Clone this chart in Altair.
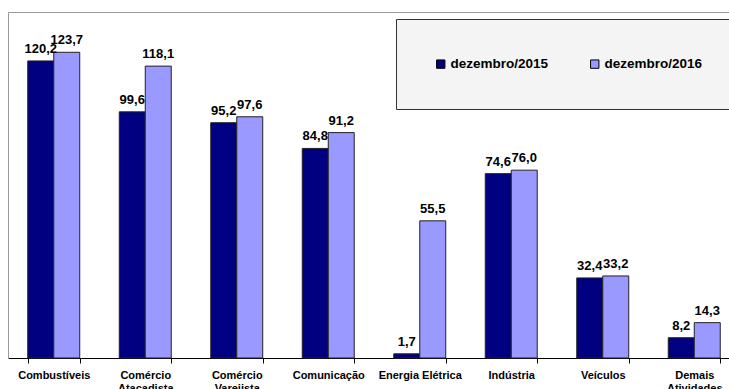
import altair as alt
import pandas as pd

categories = ["Combustíveis", "Comércio Atacadista", "Comércio Varejista", "Comunicação",
              "Energia Elétrica", "Indústria", "Veículos", "Demais Atividades"]
series = ["dezembro/2015", "dezembro/2016"]
values_2015 = [120.2, 99.6, 95.2, 84.8, 1.7, 74.6, 32.4, 8.2]
values_2016 = [123.7, 118.1, 97.6, 91.2, 55.5, 76.0, 33.2, 14.3]
colors = ["#000080", "#9999FF"]

rows = []
for c, a, b in zip(categories, values_2015, values_2016):
    rows.append({"cat": c, "serie": series[0], "v": a})
    rows.append({"cat": c, "serie": series[1], "v": b})
df = pd.DataFrame(rows)

FONT = "Liberation Sans"

x = alt.X("cat:N", sort=categories, title=None,
          scale=alt.Scale(range=[0, 732], paddingInner=0.432, paddingOuter=0.216),
          axis=alt.Axis(labelAngle=0, tickBand="extent", tickSize=5, tickColor="#000",
                        domainColor="#000", labelFont=FONT, labelFontSize=11,
                        labelFontWeight="bold", labelColor="#000", labelPadding=6,
                        labelBaseline="top", labelLineHeight=13,
                        labelExpr="datum.label == 'Energia Elétrica' ? datum.label : split(datum.label, ' ')"))
y = alt.Y("v:Q", title=None, scale=alt.Scale(domain=[0, 140], nice=False),
          axis=alt.Axis(values=[140], labels=False, ticks=False, grid=True,
                        gridColor="#999999", domainColor="#999999"))
xo = alt.XOffset("serie:N", sort=series, scale=alt.Scale(paddingInner=0, paddingOuter=0))

bars = alt.Chart(df).mark_bar(stroke="#222222", strokeWidth=1).encode(
    x=x, y=y, xOffset=xo,
    color=alt.Color("serie:N", sort=series, scale=alt.Scale(domain=series, range=colors),
                    legend=alt.Legend(title=None, orient="none", legendX=388, legendY=7,
                                      direction="horizontal", padding=38,
                                      fillColor="#f4f4f4", strokeColor="#333333",
                                      symbolType="square", symbolSize=70,
                                      symbolStrokeColor="#000", symbolStrokeWidth=1,
                                      labelFont=FONT, labelFontSize=13.5,
                                      labelFontWeight="bold", labelColor="#000",
                                      labelOffset=3, columnPadding=39)),
)

labels = alt.Chart(df).transform_calculate(
    lbl="replace(format(datum.v, '.1f'), '.', ',')"
).mark_text(font=FONT, fontSize=13, fontWeight="bold", color="#000",
            baseline="alphabetic", dy=-8).encode(
    x=x, y=y, xOffset=xo, text="lbl:N"
)

chart = alt.layer(bars, labels).properties(
    width=721, height=346, autosize="none",
    padding={"left": 8, "top": 12, "right": 0, "bottom": 31},
    background="white"
).configure_view(stroke=None)

chart.save("out.html", embed_options={"renderer": "svg", "actions": False})
